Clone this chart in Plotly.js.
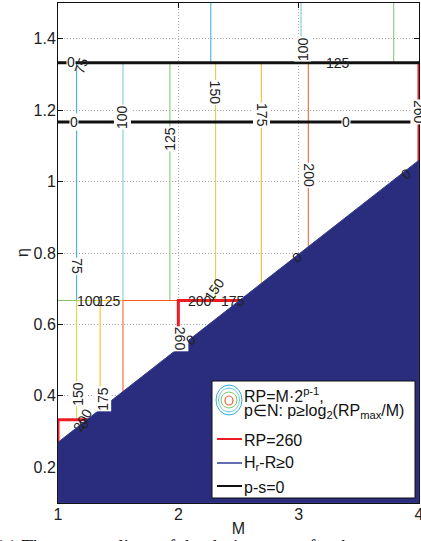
<!DOCTYPE html>
<html><head><meta charset="utf-8">
<script src="https://cdn.plot.ly/plotly-3.0.1.min.js"></script>
<style>html,body{margin:0;padding:0;background:#fff;overflow:hidden}</style>
</head><body><div id="chart" style="width:421px;height:541px"></div>
<script>
// Contour levels of RP = M·2^(p-1) and their colours
const levels = [75, 100, 125, 150, 175, 200, 260];
const levelColors = ['#35a8e0', '#6fcbcb', '#80c26a', '#cdd63a', '#f9b90f', '#f15a24', '#ed1c24'];
// eta values where p jumps (band edges)
const bandEta = [1.333, 0.667, 0.333];
// M position of each level inside each eta band (values < 1 or > 4 lie outside the frame)
const mTop = [2.27, 3.02, 3.79, 4.55, 5.30, 6.06, 7.88];   // eta > 1.333
const mMid = [1.155, 1.54, 1.93, 2.31, 2.69, 3.08, 4.0];   // 0.667 < eta < 1.333
const mLow = [0.58, 0.77, 0.96, 1.155, 1.35, 1.54, 2.0];   // 0.333 < eta < 0.667
const mBot = [0.29, 0.38, 0.48, 0.58, 0.67, 0.77, 1.0];    // eta < 0.333
// p - s = 0 lines
const psEta = [1.333, 1.167];
// boundary of the region H_r - R >= 0
const hrM = [1, 4];
const hrEta = [0.27, 1.06];
// axes
const xRange = [1, 4];
const yRange = [0.1, 1.5];
const xTicks = [1, 2, 3, 4];
const xTickText = ['1', '2', '3', '4'];
const yTicks = [0.2, 0.4, 0.6, 0.8, 1, 1.2, 1.4];
const yTickText = ['0.2', '0.4', '0.6', '0.8', '1', '1.2', '1.4'];
// contour labels
const labText  = ['0', '75', '0', '0', '125', '100', '100', '125', '150', '175', '200', '260', '75', '100', '125', '200', '175', '260', '0', '0', '0', '0', '150', '175', '150', '200'];
const labM     = [1.106, 1.19, 1.13, 3.39, 3.33, 3.03, 1.538, 1.929, 2.308, 2.693, 3.084, 4.0, 1.155, 1.255, 1.42, 2.178, 2.452, 2.01, 2.103, 2.99, 3.89, 1.22, 1.164, 1.372, 2.30, 1.205];
const labEta   = [1.334, 1.325, 1.1665, 1.1665, 1.333, 1.372, 1.180, 1.119, 1.248, 1.187, 1.018, 1.195, 0.764, 0.667, 0.667, 0.667, 0.667, 0.561, 0.556, 0.789, 1.022, 0.323, 0.405, 0.391, 0.70, 0.332];
const labAngle = [0, -70, 0, 0, 0, -90, -90, -90, 90, 90, 90, 90, 90, 0, 0, 0, 0, 90, -38, -38, -38, -38, -90, -90, -55, -60];
const labBg    = [1, 0, 1, 1, 0, 1, 1, 1, 1, 1, 1, 1, 1, 0, 0, 0, 0, 1, 0, 0, 0, 0, 1, 1, 0, 0];

const traces = [];
levels.forEach((lv, i) => {
  traces.push({
    type: 'scatter', mode: 'lines', showlegend: false, hoverinfo: 'skip',
    x: [mTop[i], mTop[i], mMid[i], mMid[i], mLow[i], mLow[i], mBot[i], mBot[i]],
    y: [yRange[1], bandEta[0], bandEta[0], bandEta[1], bandEta[1], bandEta[2], bandEta[2], yRange[0]],
    line: {color: levelColors[i], width: lv === 260 ? 3 : 1}
  });
});
psEta.forEach(e => {
  traces.push({
    type: 'scatter', mode: 'lines', showlegend: false, hoverinfo: 'skip',
    x: [xRange[0], xRange[1]], y: [e, e],
    line: {color: '#111', width: 3}
  });
});
traces.push({
  type: 'scatter', mode: 'lines', showlegend: false, hoverinfo: 'skip',
  x: [hrM[0], hrM[0], hrM[1], hrM[1], hrM[0]],
  y: [yRange[0], hrEta[0], hrEta[1], yRange[0], yRange[0]],
  fill: 'toself', fillcolor: 'rgb(42,45,126)',
  line: {color: 'rgb(52,60,140)', width: 1}
});

const FONT = 'Liberation Sans, Arial, Helvetica, sans-serif';
const annotations = labText.map((t, i) => ({
  x: labM[i], y: labEta[i], xref: 'x', yref: 'y', text: t, showarrow: false,
  textangle: labAngle[i], font: {family: FONT, size: 14, color: '#222'},
  bgcolor: labBg[i] ? '#ffffff' : 'rgba(0,0,0,0)', borderpad: 0,
  xanchor: 'center', yanchor: 'middle'
}));

// legend drawn by hand (paper coordinates from pixel positions)
const PL = 58, PT = 3, PW = 361, PH = 500;
const px = v => (v - PL) / PW;
const py = v => (PT + PH - v) / PH;
const shapes = [
  {type: 'rect', xref: 'paper', yref: 'paper', x0: px(212), x1: px(415), y0: py(498), y1: py(381),
   fillcolor: '#fff', line: {color: '#111', width: 1}, layer: 'above'},
  {type: 'circle', xref: 'paper', yref: 'paper', x0: px(216), x1: px(242), y0: py(415), y1: py(385), line: {color: '#35a8e0', width: 1}, layer: 'above'},
  {type: 'circle', xref: 'paper', yref: 'paper', x0: px(218.5), x1: px(239.5), y0: py(412), y1: py(388), line: {color: '#6fcbcb', width: 1}, layer: 'above'},
  {type: 'circle', xref: 'paper', yref: 'paper', x0: px(221), x1: px(237), y0: py(408), y1: py(392), line: {color: '#80c26a', width: 1}, layer: 'above'},
  {type: 'circle', xref: 'paper', yref: 'paper', x0: px(225), x1: px(233), y0: py(405), y1: py(396), line: {color: '#f15a24', width: 1.2}, layer: 'above'},
  {type: 'line', xref: 'paper', yref: 'paper', x0: px(217), x1: px(242), y0: py(439), y1: py(439), line: {color: '#ed1c24', width: 2}, layer: 'above'},
  {type: 'line', xref: 'paper', yref: 'paper', x0: px(217), x1: px(242), y0: py(463), y1: py(463), line: {color: '#2e3d98', width: 1.5}, layer: 'above'},
  {type: 'line', xref: 'paper', yref: 'paper', x0: px(217), x1: px(242), y0: py(486), y1: py(486), line: {color: '#111', width: 2}, layer: 'above'}
];
const legTexts = [
  ['RP=M·2<sup>p-1</sup>,', 395],
  ['p∈N: p≥log<sub>2</sub>(RP<sub>max</sub>/M)', 411],
  ['RP=260', 440],
  ['H<sub>r</sub>-R≥0', 463],
  ['p-s=0', 487]
];
legTexts.forEach(([t, y]) => annotations.push({
  xref: 'paper', yref: 'paper', x: px(242), y: py(y), text: t, showarrow: false,
  xanchor: 'left', yanchor: 'middle', font: {family: FONT, size: 16, color: '#111'}
}));
// y-axis title placed as in the reference
annotations.push({
  xref: 'paper', yref: 'paper', x: px(22), y: py(253), text: 'η', showarrow: false,
  textangle: -90, xanchor: 'center', yanchor: 'middle', font: {family: FONT, size: 16, color: '#222'}
});
// figure caption, cut off by the bottom edge
annotations.push({
  xref: 'paper', yref: 'paper', x: px(-6), y: py(533.5), text: '(c) The contour lines of the design space for the',
  showarrow: false, xanchor: 'left', yanchor: 'top',
  font: {family: 'Liberation Serif, DejaVu Serif, serif', size: 19, color: '#111'}
});

const axisCommon = {
  ticks: 'inside', ticklen: 5, tickcolor: '#111', showline: true, mirror: 'ticks',
  linecolor: '#111', linewidth: 1, showgrid: true, gridcolor: '#a8a8a8', griddash: '1px,2px',
  gridwidth: 1, zeroline: false, layer: 'below traces', ticklabeloverflow: 'allow',
  tickfont: {family: FONT, size: 16, color: '#222'}
};
const layout = {
  width: 421, height: 541,
  margin: {l: PL, r: 421 - PL - PW, t: PT, b: 541 - PT - PH},
  paper_bgcolor: '#fff', plot_bgcolor: '#fff',
  xaxis: Object.assign({}, axisCommon, {
    range: xRange, tickmode: 'array', tickvals: xTicks, ticktext: xTickText,
    ticklabelstandoff: -3,
    title: {text: 'M', font: {family: FONT, size: 16, color: '#222'}, standoff: 0}
  }),
  yaxis: Object.assign({}, axisCommon, {
    range: yRange, tickmode: 'array', tickvals: yTicks, ticktext: yTickText,
    ticklabelstandoff: -2
  }),
  annotations: annotations,
  shapes: shapes,
  showlegend: false
};
Plotly.newPlot('chart', traces, layout, {staticPlot: true, displayModeBar: false});
</script></body></html>
